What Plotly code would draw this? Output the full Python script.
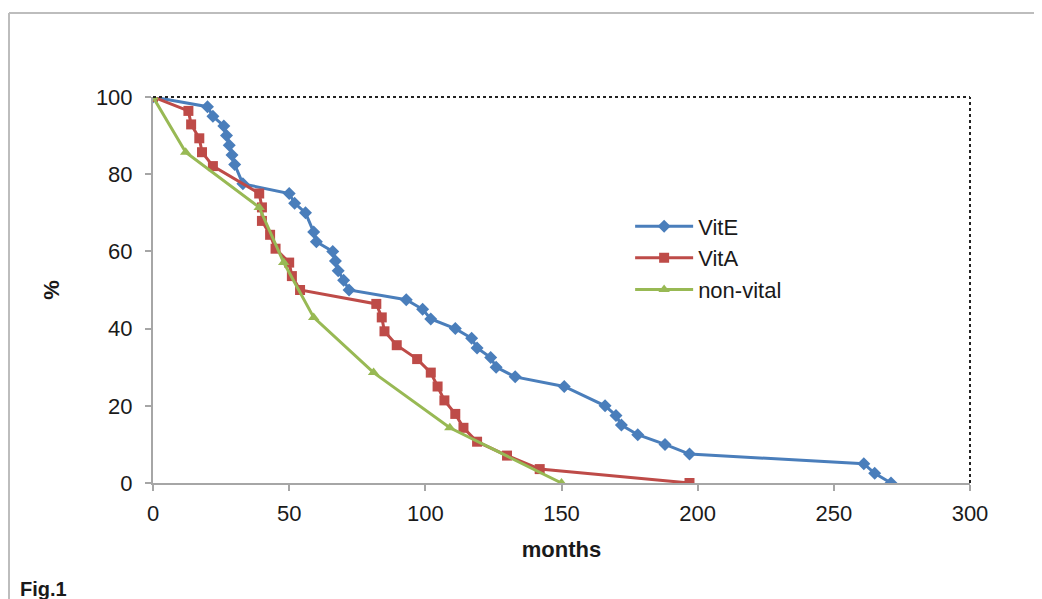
import plotly.graph_objects as go

# VitE
vite_x = [0, 20, 22, 26, 27, 28, 29, 30, 33, 50, 52, 56, 59, 60, 66, 67, 68, 70, 72,
          93, 99, 102, 111, 117, 119, 124, 126, 133, 151, 166, 170, 172, 178, 188, 197,
          261, 265, 271]
vite_y = [100, 97.5, 95, 92.5, 90, 87.5, 85, 82.5, 77.5, 75, 72.5, 70, 65, 62.5, 60, 57.5, 55, 52.5, 50,
          47.5, 45, 42.5, 40, 37.5, 35, 32.5, 30, 27.5, 25, 20, 17.5, 15, 12.5, 10, 7.5,
          5, 2.5, 0]
# VitA
vita_x = [0, 13, 14, 17, 18, 22, 39, 40, 40, 43, 45, 50, 51, 54, 82, 84, 85, 89.5, 97,
          102, 104.5, 107, 111, 114, 119, 130, 142, 197]
vita_y = [100, 96.4, 92.9, 89.3, 85.7, 82.1, 75, 71.4, 67.9, 64.3, 60.7, 57.1, 53.6, 50, 46.4, 42.9, 39.3, 35.7, 32.1,
          28.6, 25, 21.4, 17.9, 14.3, 10.7, 7.1, 3.6, 0]
# non-vital
nv_x = [0, 12, 39, 48, 59, 81, 109, 150]
nv_y = [100, 85.7, 71.4, 57.1, 42.9, 28.6, 14.3, 0]

x_ticks = [0, 50, 100, 150, 200, 250, 300]
y_ticks = [0, 20, 40, 60, 80, 100]

BLUE = "#4A7EBB"
RED = "#BE4B48"
GREEN = "#98B954"
FONT = "Liberation Sans"
TXT = "#1a1a1a"

# page offset (browser body margin)
OFF = 8
PL, PR, PT, PB = 153, 970, 97, 483  # plot area in screen pixels

fig = go.Figure()
fig.add_trace(go.Scatter(x=vite_x, y=vite_y, name="VitE", mode="lines+markers",
                         line=dict(color=BLUE, width=3),
                         marker=dict(symbol="diamond", size=10, color=BLUE)))
fig.add_trace(go.Scatter(x=vita_x, y=vita_y, name="VitA", mode="lines+markers",
                         line=dict(color=RED, width=3),
                         marker=dict(symbol="square", size=10, color=RED)))
fig.add_trace(go.Scatter(x=nv_x, y=nv_y, name="non-vital", mode="lines+markers",
                         line=dict(color=GREEN, width=3),
                         marker=dict(symbol="triangle-up", size=10, color=GREEN)))

fig.update_layout(
    width=1042, height=599,
    margin=dict(l=PL - OFF, r=1042 - (PR - OFF), t=PT - OFF, b=599 - (PB - OFF)),
    paper_bgcolor="white", plot_bgcolor="white",
    font=dict(family=FONT, size=22, color=TXT),
    showlegend=True,
    legend=dict(x=0.584, y=0.719, xanchor="left", yanchor="top",
                bgcolor="rgba(0,0,0,0)", itemwidth=58, tracegroupgap=0,
                font=dict(family=FONT, size=22, color=TXT)),
    xaxis=dict(range=[0, 300], tickvals=x_ticks, showgrid=False, zeroline=False,
               showline=True, linecolor="#a6a6a6", linewidth=2,
               ticks="outside", ticklen=6, tickcolor="#a6a6a6", tickwidth=2,
               tickfont=dict(size=22), ticklabelstandoff=4,
               title=dict(text="<b>months</b>", font=dict(size=22), standoff=16)),
    yaxis=dict(range=[0, 100], tickvals=y_ticks, showgrid=False, zeroline=False,
               showline=True, linecolor="#a6a6a6", linewidth=2,
               ticks="outside", ticklen=6, tickcolor="#a6a6a6", tickwidth=2,
               tickfont=dict(size=22), ticklabelstandoff=8,
               title=dict(text="<b>%</b>", font=dict(size=22), standoff=30)),
)

# dotted top/right plot borders
fig.add_shape(type="line", xref="paper", yref="paper", x0=0, x1=1, y0=1, y1=1,
              line=dict(color="#222222", width=2, dash="dot"))
fig.add_shape(type="line", xref="paper", yref="paper", x0=1, x1=1, y0=0, y1=1,
              line=dict(color="#222222", width=2, dash="dot"))

# outer frame (top and left), positions in screen pixels
def px_x(p):
    return (p - PL) / float(PR - PL)

def px_y(p):
    return (PB - p) / float(PB - PT)

fig.add_shape(type="line", xref="paper", yref="paper", x0=px_x(9), x1=px_x(1060),
              y0=px_y(13), y1=px_y(13), line=dict(color="#bdbdbd", width=2))
fig.add_shape(type="line", xref="paper", yref="paper", x0=px_x(9), x1=px_x(9),
              y0=px_y(13), y1=px_y(620), line=dict(color="#bdbdbd", width=2))

fig.add_annotation(text="<b>Fig.1</b>", xref="paper", yref="paper",
                   x=px_x(18), y=px_y(602), xanchor="left", yanchor="bottom",
                   showarrow=False,
                   font=dict(family=FONT, size=20, color=TXT))

fig.write_html("out.html")
